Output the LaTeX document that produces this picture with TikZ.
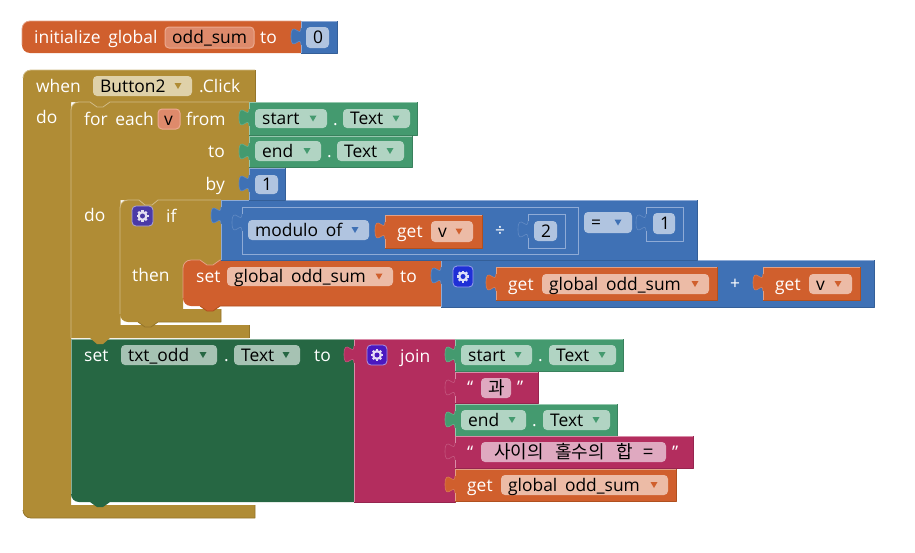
\documentclass[tikz,border=0pt]{standalone}
\usepackage{fontspec}
\setmainfont[WordSpace=1.7]{Open Sans}
\newfontfamily\krfont[WordSpace=2.8]{Noto Sans CJK KR}
\definecolor{gd}{HTML}{B08C35}\definecolor{gdL}{HTML}{D0BA85}\definecolor{gdD}{HTML}{94752A}
\definecolor{or}{HTML}{D05F2D}\definecolor{orL}{HTML}{E3A084}\definecolor{orD}{HTML}{B0501F}
\definecolor{bl}{HTML}{3F71B5}\definecolor{blL}{HTML}{8FABD6}\definecolor{blD}{HTML}{345F98}
\definecolor{gr}{HTML}{449A6F}\definecolor{grL}{HTML}{95C8AE}\definecolor{grD}{HTML}{39815D}
\definecolor{dg}{HTML}{266743}\definecolor{dgL}{HTML}{86AE98}\definecolor{dgD}{HTML}{1F5638}
\definecolor{cr}{HTML}{B32D5E}\definecolor{crL}{HTML}{D98CA8}\definecolor{crD}{HTML}{96254F}
\definecolor{fOr}{HTML}{ECBBA6}\definecolor{fBl}{HTML}{B0C4E0}\definecolor{fGr}{HTML}{B1D4C3}
\definecolor{fDg}{HTML}{A6C2B3}\definecolor{fCr}{HTML}{DFA9C0}\definecolor{fGd}{HTML}{DFD1A9}
\definecolor{fVa}{HTML}{DE8A6B}\definecolor{fVb}{HTML}{ECAA90}
\definecolor{gearA}{HTML}{4A3AA6}\definecolor{gearB}{HTML}{1F2FD6}\definecolor{gearC}{HTML}{4A18C0}
\newcount\nodeno
\tikzset{
  lab/.style={inner sep=0pt,anchor=base west,text=white,font=\fontsize{17.4}{20}\selectfont},
  labr/.style={lab,anchor=base east},
  ftxt/.style={inner sep=0pt,anchor=base west,text=black,font=\fontsize{17.4}{20}\selectfont},
  thinl/.style={line width=0.8pt,line join=round}
}
% white label: x, baseline y, text
\newcommand\lab[3]{\global\advance\nodeno by 1 \node[lab,name=n\the\nodeno] at (#1,#2) {#3};}
\newcommand\labr[3]{\global\advance\nodeno by 1 \node[labr,name=n\the\nodeno] at (#1,#2) {#3};}
% field: x1 y1 x2 y2 fill text arrowcolour
\newcommand\fld[7]{%
  \fill[#5,rounded corners=4pt] (#1,#2) rectangle (#3,#4);
  \global\advance\nodeno by 1
  \node[ftxt,name=n\the\nodeno] at ({#1+7},{(#2+#4)/2+6}) {#6};
  \if\relax\detokenize{#7}\relax\else
    \fill[#7] ({#3-17.5},{(#2+#4)/2-3}) -- ({#3-10.5},{(#2+#4)/2-3}) -- ({#3-14},{(#2+#4)/2+3}) -- cycle;
  \fi}
% block with an output tab: x1 y1 x2 y2 fill light dark
\newcommand\valblock[7]{%
  \fill[#5] (#3,#2) -- (#1,#2) -- (#1,{#2+7}) .. controls (#1,{#2+18}) and ({#1-10},{#2-2}) .. ({#1-10},{#2+15.5})
     .. controls ({#1-10},{#2+33}) and (#1,{#2+12.7}) .. (#1,{#2+24}) -- (#1,#4) -- (#3,#4) -- cycle;
  \draw[#7,thinl] (#1,#4) -- (#3,#4) -- (#3,#2);
  \draw[#6,thinl] (#3,#2) -- (#1,#2) -- (#1,{#2+7});
  \draw[#6,thinl] (#1,{#2+24}) -- (#1,#4);
  \draw[#6!45!#5,line width=0.6pt] (#1,{#2+7}) .. controls (#1,{#2+18}) and ({#1-10},{#2-2}) .. ({#1-10},{#2+15.5})
     .. controls ({#1-10},{#2+33}) and (#1,{#2+12.7}) .. (#1,{#2+24});}
% gear: x1 y1 x2 y2 fill
\newcommand\gearicon[5]{%
  \draw[fill=#5,draw=white!55!#5,line width=0.8pt,rounded corners=4pt] (#1,#2) rectangle (#3,#4);
  \foreach \a in {0,45,...,315}{\draw[white!85!#5,line width=2.2pt] ({(#1+#3)/2},{(#2+#4)/2}) -- ++(\a:6);}
  \fill[white!85!#5] ({(#1+#3)/2},{(#2+#4)/2}) circle[radius=5];
  \fill[#5] ({(#1+#3)/2},{(#2+#4)/2}) circle[radius=2.5];}
\newcommand\kr[1]{{\krfont\fontsize{18}{20}\selectfont #1}}
\begin{document}
\begin{tikzpicture}[x=1pt,y=-1pt]
\useasboundingbox (0,0) rectangle (915,552);
% ---- initialize global
\fill[or] (30,21) -- (301,21) -- (301,53) -- (30,53) .. controls (25,53) and (22,49) .. (22,45) -- (22,29) .. controls (22,25) and (25,21) .. (30,21) -- cycle;
\draw[orL,thinl] (301,21) -- (30,21) .. controls (25,21) and (22,25) .. (22,29) -- (22,45);
\lab{34}{43}{initialize global}
\draw[fVb,fill=fVa,line width=1pt,rounded corners=4pt] (165,27) rectangle (254,48);
\global\advance\nodeno by 1 \node[ftxt,name=n\the\nodeno] at (172,43) {odd\_sum};
\lab{260}{43}{to}
\valblock{301}{21}{337}{53}{bl}{blL}{blD}
\fld{306}{27}{329}{48}{fBl}{0}{}
% ---- when
\fill[gd] (31,70) -- (255,70) -- (255,102) -- (110,102) -- (103,107) -- (97,107) -- (90,102) -- (71,102) -- (71,505) -- (255,505) -- (255,518) -- (31,518) .. controls (26,518) and (23,514) .. (23,510) -- (23,78) .. controls (23,74) and (26,70) .. (31,70) -- cycle;
\draw[gdD,thinl] (255,70) -- (255,102);
\draw[gdD,thinl] (255,505) -- (255,518) -- (31,518) .. controls (26,518) and (23,514) .. (23,510);
\draw[gdL,thinl] (255,70) -- (31,70) .. controls (26,70) and (23,74) .. (23,78);
\lab{36}{92}{when}
\fld{93}{76}{192}{96}{fGd}{Button2}{gd}
\lab{199}{92}{.Click}
\lab{36}{123}{do}
% ---- set txt_odd
\fill[dg] (71,339) -- (354,339) -- (354,502) -- (110,502) -- (103,507) -- (97,507) -- (90,502) -- (79,502) .. controls (74,502) and (71,498) .. (71,494) -- cycle;
\draw[dgL,thinl] (71,494) -- (71,339) -- (354,339);
\lab{84}{361}{set}
\fld{121}{345}{217}{365}{fDg}{txt\_odd}{dg}
\lab{224}{361}{.}
\fld{234}{345}{300}{365}{fDg}{Text}{dg}
\lab{314}{361}{to}
% ---- for each
\fill[gd] (79,102) -- (90,102) -- (97,107) -- (103,107) -- (110,102) -- (249,102) -- (249,200) -- (158,200) -- (152,205) -- (145,205) -- (139,200) -- (120,200) -- (120,325) -- (249,325) -- (249,338) -- (110,338) -- (103,344) -- (97,344) -- (90,338) -- (71,338) -- (71,110) .. controls (71,106) and (74,102) .. (79,102) -- cycle;
\draw[gdL,thinl] (71,338) -- (71,110) .. controls (71,106) and (74,102) .. (79,102) -- (90,102) -- (97,107) -- (103,107) -- (110,102) -- (249,102);
\draw[gdD,thinl] (249,325) -- (249,338);
\draw[gdL,thinl] (120,200) -- (120,325);
\lab{84}{125}{for each}
\draw[fVb,fill=fVa,line width=1pt,rounded corners=4pt] (158,109) rectangle (180,129);
\global\advance\nodeno by 1 \node[ftxt,name=n\the\nodeno] at (164,125) {v};
\lab{186}{125}{from}
\labr{225}{157}{to}
\labr{225}{190}{by}
\lab{84}{221}{do}
% ---- if
\fill[gd] (128,200) -- (139,200) -- (145,205) -- (152,205) -- (158,200) -- (221,200) -- (221,260) -- (220,260) -- (213,265) -- (207,265) -- (200,260) -- (191,260) .. controls (186,260) and (183,264) .. (183,268) -- (183,309) -- (221,309) -- (221,322) -- (158,322) -- (151,327) -- (145,327) -- (138,322) -- (128,322) .. controls (123,322) and (120,318) .. (120,314) -- (120,208) .. controls (120,204) and (123,200) .. (128,200) -- cycle;
\draw[gdL,thinl] (120,314) -- (120,208) .. controls (120,204) and (123,200) .. (128,200) -- (139,200) -- (145,205) -- (152,205) -- (158,200) -- (221,200);
\draw[gdD,thinl] (221,309) -- (221,322) -- (158,322) -- (151,327) -- (145,327) -- (138,322);
\gearicon{132}{206}{153}{226}{gearA}
\lab{166}{222}{if}
\lab{132}{281}{then}
% ---- set global odd_sum
\fill[or] (191,260) -- (200,260) -- (207,265) -- (213,265) -- (220,260) -- (441,260) -- (441,306) -- (220,306) -- (213,311) -- (207,311) -- (200,306) -- (191,306) .. controls (186,306) and (183,302) .. (183,298) -- (183,268) .. controls (183,264) and (186,260) .. (191,260) -- cycle;
\draw[orL,thinl] (183,298) -- (183,268) .. controls (183,264) and (186,260) .. (191,260) -- (200,260) -- (207,265) -- (213,265) -- (220,260) -- (441,260);
\draw[orD,thinl] (441,306) -- (220,306) -- (213,311) -- (207,311) -- (200,306);
\lab{196}{282}{set}
\fld{227}{267}{393}{286}{fOr}{global odd\_sum}{or}
\lab{400}{282}{to}
% ---- plus
\valblock{441}{260}{874}{307}{bl}{blL}{blD}
\gearicon{453}{266}{473}{287}{gearB}
\valblock{496}{267}{717}{300}{or}{orL}{orD}
\lab{508}{290}{get}
\fld{542}{274}{709}{294}{fOr}{global odd\_sum}{or}
\lab{730}{289}{+}
\valblock{763}{267}{860}{300}{or}{orL}{orD}
\lab{775}{290}{get}
\fld{809}{274}{852}{294}{fOr}{v}{or}
% ---- if condition
\valblock{221}{200}{697}{260}{bl}{blL}{blD}
\valblock{242}{207}{578}{254}{bl}{blL}{blL}
\fld{248}{220}{369}{240}{fBl}{modulo of}{bl}
\valblock{385}{215}{482}{248}{or}{orL}{orD}
\lab{397}{237}{get}
\fld{431}{221}{473}{242}{fOr}{v}{or}
\lab{495}{236}{÷}
\valblock{528}{214}{565}{248}{bl}{blL}{blL}
\fld{534}{221}{557}{241}{fBl}{2}{}
\fld{584}{212}{632}{233}{fBl}{=}{bl}
\valblock{646}{207}{683}{241}{bl}{blL}{blL}
\fld{653}{213}{675}{234}{fBl}{1}{}
% ---- for each values
\valblock{249}{102}{417}{135}{gr}{grL}{grD}
\fld{255}{109}{327}{128}{fGr}{start}{gr}
\lab{333}{125}{.}
\fld{343}{109}{410}{128}{fGr}{Text}{gr}
\valblock{249}{136}{412}{167}{gr}{grL}{grD}
\fld{255}{141}{321}{161}{fGr}{end}{gr}
\lab{327}{157}{.}
\fld{337}{141}{404}{161}{fGr}{Text}{gr}
\valblock{249}{168}{285}{200}{bl}{blL}{blD}
\fld{255}{175}{278}{194}{fBl}{1}{}
% ---- join
\valblock{354}{339}{455}{502}{cr}{crL}{crD}
\gearicon{367}{345}{387}{365}{gearC}
\lab{400}{362}{join}
\valblock{455}{339}{623}{371}{gr}{grL}{grD}
\fld{461}{345}{532}{365}{fGr}{start}{gr}
\lab{538}{361}{.}
\fld{549}{345}{616}{365}{fGr}{Text}{gr}
\valblock{455}{372}{538}{403}{cr}{crL}{crD}
\lab{467}{393}{“}
\fld{481}{378}{511}{398}{fCr}{\kr{과}}{}
\lab{517}{393}{”}
\valblock{455}{404}{617}{436}{gr}{grL}{grD}
\fld{461}{410}{526}{430}{fGr}{end}{gr}
\lab{532}{426}{.}
\fld{543}{410}{610}{430}{fGr}{Text}{gr}
\valblock{455}{436}{693}{468}{cr}{crL}{crD}
\lab{467}{458}{“}
\fld{481}{442}{666}{462}{fCr}{\kr{\,\,사이의 홀수의 합 =}}{}
\lab{672}{458}{”}
\valblock{455}{469}{676}{501}{or}{orL}{orD}
\lab{467}{491}{get}
\fld{501}{475}{668}{495}{fOr}{global odd\_sum}{or}
\end{tikzpicture}
\end{document}
